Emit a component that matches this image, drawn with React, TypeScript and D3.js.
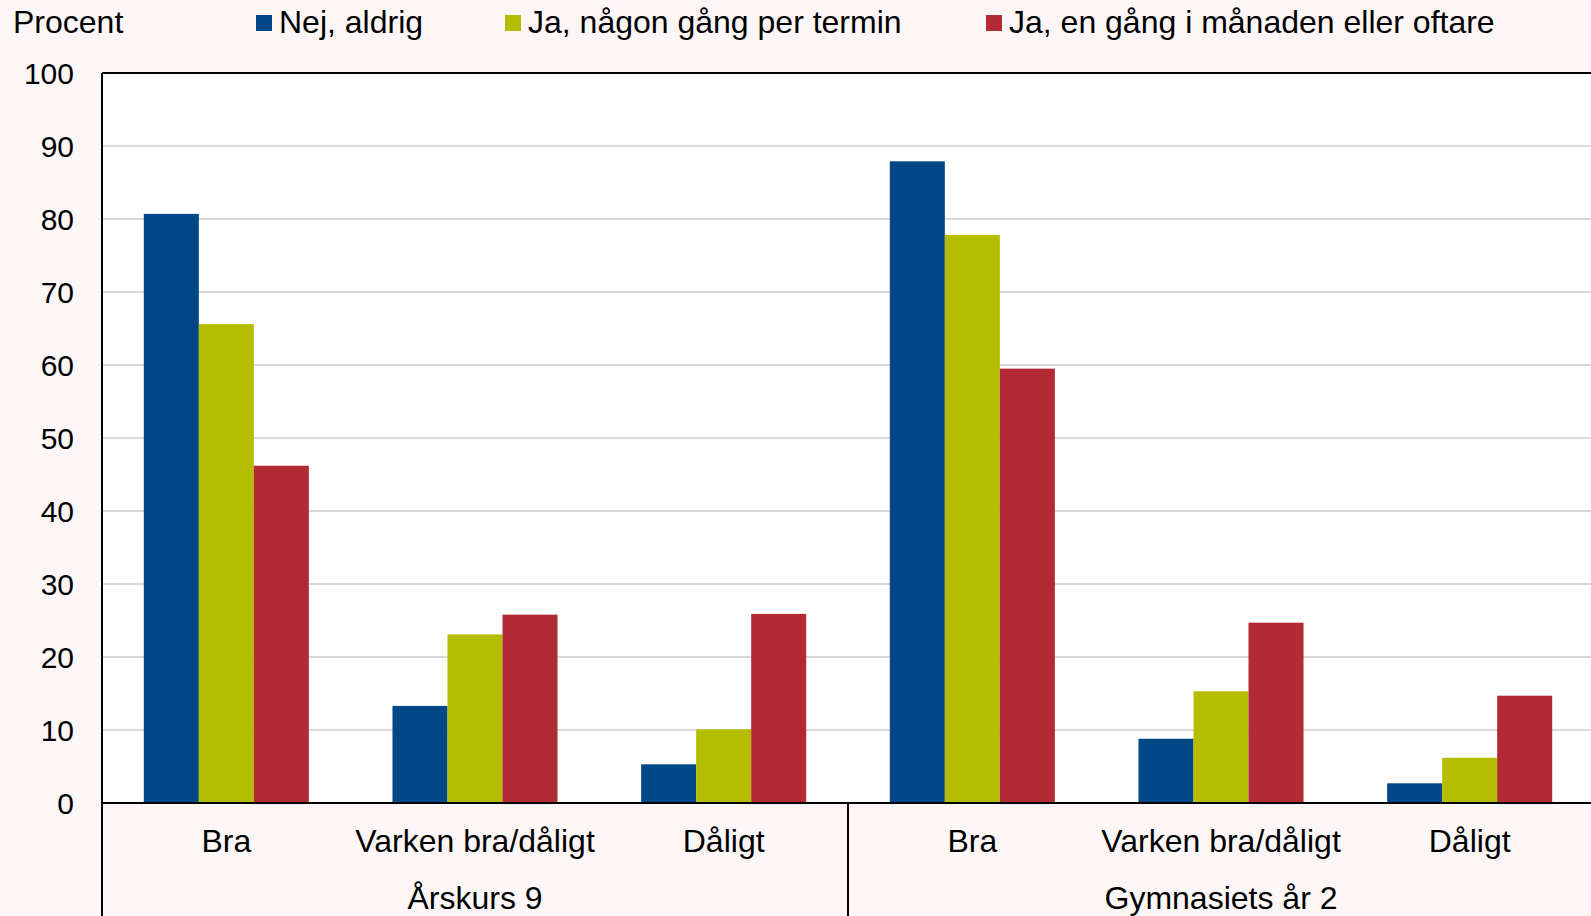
import React from 'react';
import * as d3 from 'd3';

const categories = ['Bra', 'Varken bra/dåligt', 'Dåligt'];
const groups = ['Årskurs 9', 'Gymnasiets år 2'];
const seriesNames = ['Nej, aldrig', 'Ja, någon gång per termin', 'Ja, en gång i månaden eller oftare'];
const seriesColors = ['#004787', '#b5bd00', '#b22a33'];

// values per bar, Årskurs 9 then Gymnasiets år 2
const nejAldrig = [80.7, 13.3, 5.3, 87.9, 8.8, 2.7];
const perTermin = [65.6, 23.1, 10.1, 77.8, 15.3, 6.2];
const perManad = [46.2, 25.8, 25.9, 59.5, 24.7, 14.7];

const yTicks = [0, 10, 20, 30, 40, 50, 60, 70, 80, 90, 100];

const width = 1591;
const height = 916;
const margin = { top: 73, right: -3, bottom: 113, left: 102 };
const font = '"Liberation Sans", Arial, sans-serif';

const App = () => {
    const series = [nejAldrig, perTermin, perManad];
    const slots = groups.flatMap((g, gi) => categories.map((c, ci) => ({ group: g, cat: c, i: gi * categories.length + ci })));

    const x0 = d3.scaleBand<number>()
        .domain(slots.map(d => d.i))
        .range([margin.left, width - margin.right]);

    const x1 = d3.scaleBand<number>()
        .domain(d3.range(series.length))
        .range([0, x0.bandwidth()])
        .paddingOuter(0.76);

    const y = d3.scaleLinear()
        .domain([0, 100])
        .range([height - margin.bottom, margin.top]);

    const groupX = d3.scaleBand<string>()
        .domain(groups)
        .range([margin.left, width - margin.right]);

    const y0 = y(0);

    return (
        <svg width={width} height={height} style={{ position: 'absolute', left: 0, top: 0, fontFamily: font }}>
            <rect x={0} y={0} width={width} height={height} fill="#fcf6f6" />
            <rect x={margin.left} y={margin.top} width={width - margin.right - margin.left} height={y0 - margin.top} fill="#ffffff" />

            {/* gridlines */}
            {yTicks.filter(t => t > 0 && t < 100).map(t => (
                <line key={t} x1={margin.left} x2={width} y1={y(t)} y2={y(t)} stroke="#d9d9d9" strokeWidth={2} />
            ))}

            {/* bars */}
            {slots.map(s => (
                <g key={s.i} transform={`translate(${x0(s.i)},0)`}>
                    {series.map((vals, k) => (
                        <rect key={k}
                            x={x1(k)}
                            y={y(vals[s.i])}
                            width={x1.bandwidth()}
                            height={y0 - y(vals[s.i])}
                            fill={seriesColors[k]} />
                    ))}
                </g>
            ))}

            {/* plot frame */}
            <line x1={margin.left} x2={width} y1={margin.top} y2={margin.top} stroke="#000" strokeWidth={2} />
            <line x1={margin.left} x2={margin.left} y1={margin.top} y2={height} stroke="#000" strokeWidth={2} />
            <line x1={margin.left} x2={width} y1={y0} y2={y0} stroke="#000" strokeWidth={2} />
            <line x1={groupX(groups[1])} x2={groupX(groups[1])} y1={y0} y2={height} stroke="#000" strokeWidth={2} />

            {/* y tick labels */}
            {yTicks.map(t => (
                <text key={t} x={74} y={y(t)} dy="0.35em" textAnchor="end" fontSize={30} fill="#000">{t}</text>
            ))}

            {/* category labels */}
            {slots.map(s => (
                <text key={s.i} x={x0(s.i)! + x0.bandwidth() / 2} y={852} textAnchor="middle" fontSize={32} fill="#000">{s.cat}</text>
            ))}
            {groups.map(g => (
                <text key={g} x={groupX(g)! + groupX.bandwidth() / 2} y={909} textAnchor="middle" fontSize={32} fill="#000">{g}</text>
            ))}

            {/* legend */}
            <text x={13} y={33} fontSize={32} fill="#000">Procent</text>
            {seriesNames.map((name, k) => {
                const lx = [256, 505, 986][k];
                return (
                    <g key={name}>
                        <rect x={lx} y={15} width={16} height={16} fill={seriesColors[k]} />
                        <text x={lx + 23} y={33} fontSize={32} fill="#000">{name}</text>
                    </g>
                );
            })}
        </svg>
    );
};

export default App;
